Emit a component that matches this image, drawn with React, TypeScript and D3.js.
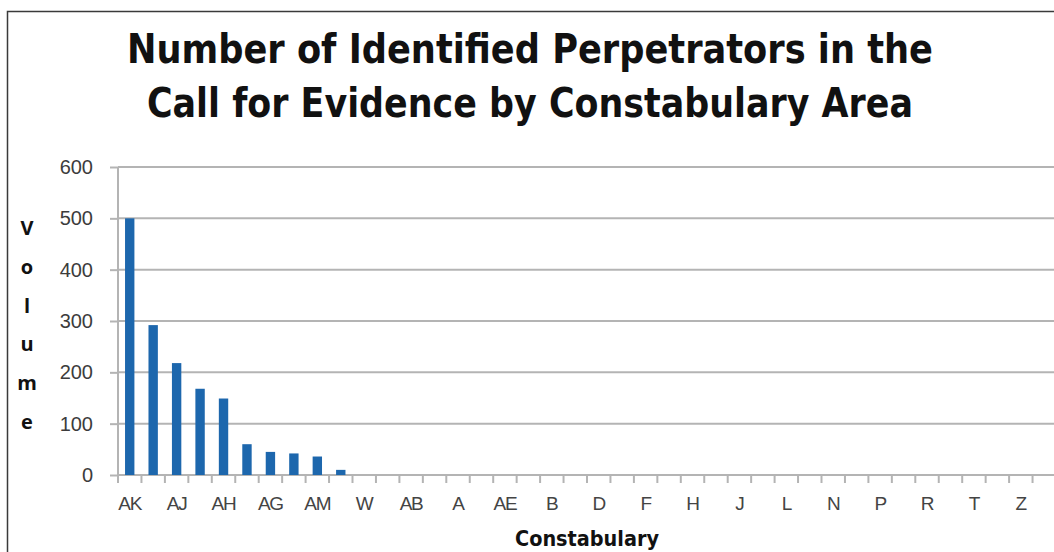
import React from 'react';
import * as d3 from 'd3';

const constabularies = [
  'AK', 'AL', 'AJ', 'AI', 'AH', 'AF', 'AG', 'AD', 'AM', 'X',
  'W', 'Y', 'AB', 'AA', 'A', 'AC', 'AE', 'AN', 'B', 'C',
  'D', 'E', 'F', 'G', 'H', 'I', 'J', 'K', 'L', 'M',
  'N', 'O', 'P', 'Q', 'R', 'S', 'T', 'U', 'Z', 'V',
];
const volumes = [
  500, 292, 218, 168, 149, 60, 45, 42, 36, 10,
  0, 0, 0, 0, 0, 0, 0, 0, 0, 0,
  0, 0, 0, 0, 0, 0, 0, 0, 0, 0,
  0, 0, 0, 0, 0, 0, 0, 0, 0, 0,
];
const yTicks = [0, 100, 200, 300, 400, 500, 600];
const titleLines = ['Number of Identified Perpetrators in the', 'Call for Evidence by Constabulary Area'];
const yTitle = 'Volume';

const useD3 = (renderChartFn: Function, deps: Array<unknown>) => {
  const ref = React.useRef(null);
  React.useEffect(() => {
    renderChartFn(d3.select(ref.current));
  }, deps); // eslint-disable-line
  return ref;
};

export default function App() {
  const width = 1054;
  const height = 552;

  const ref = useD3(
    // @ts-ignore
    (svg) => {
      svg.selectAll('*').remove();
      const left = 118;
      const right = 1056;
      const top = 167;
      const bottom = 475;
      const grey = '#b4b4b4';

      const x = d3.scaleBand().domain(constabularies).range([left, right]).paddingInner(0.6).paddingOuter(0.3);
      const y = d3.scaleLinear().domain([0, 600]).range([bottom, top]);

      svg.append('rect').attr('width', width).attr('height', height).attr('fill', '#fff');
      // frame (cropped on right / bottom)
      svg
        .append('path')
        .attr('d', `M7.5,${height} V11.5 H${width}`)
        .attr('fill', 'none')
        .attr('stroke', '#3a3a3a')
        .attr('stroke-width', 1.5);

      // titles
      const titleWidths = [806, 766];
      svg
        .selectAll('.title')
        .data(titleLines)
        .join('text')
        .attr('class', 'title')
        .attr('x', 530)
        .attr('y', (_d: string, i: number) => 63 + i * 54)
        .attr('text-anchor', 'middle')
        .attr('font-family', '"DejaVu Sans Condensed", "DejaVu Sans", sans-serif')
        .attr('font-weight', 'bold')
        .attr('font-size', 40)
        .attr('fill', '#111')
        .attr('textLength', (_d: string, i: number) => titleWidths[i])
        .attr('lengthAdjust', 'spacingAndGlyphs')
        .text((d: string) => d);

      // gridlines
      svg
        .append('g')
        .selectAll('line')
        .data(yTicks.slice(1))
        .join('line')
        .attr('x1', left)
        .attr('x2', width)
        .attr('y1', (d: number) => y(d))
        .attr('y2', (d: number) => y(d))
        .attr('stroke', grey)
        .attr('stroke-width', 2);

      // y axis
      const yAxis = svg.append('g').attr('transform', `translate(${left},0)`);
      yAxis.call(d3.axisLeft(y).tickValues(yTicks).tickSize(8).tickPadding(17));
      yAxis.select('.domain').attr('stroke', grey).attr('stroke-width', 2).attr('d', `M0,${top}V${bottom + 8}`);
      yAxis.selectAll('.tick line').attr('stroke', grey).attr('stroke-width', 2);
      yAxis
        .selectAll('.tick text')
        .attr('font-family', '"Liberation Sans", Arial, sans-serif')
        .attr('font-size', 20)
        .attr('fill', '#3c3c3c');

      // x axis
      const xAxis = svg.append('g').attr('transform', `translate(0,${bottom})`);
      const step = (right - left) / constabularies.length;
      xAxis
        .append('line')
        .attr('x1', left)
        .attr('x2', width)
        .attr('stroke', grey)
        .attr('stroke-width', 2);
      xAxis
        .selectAll('.xtick')
        .data(d3.range(constabularies.length + 1))
        .join('line')
        .attr('class', 'xtick')
        .attr('x1', (i: number) => left + i * step)
        .attr('x2', (i: number) => left + i * step)
        .attr('y1', 0)
        .attr('y2', 8)
        .attr('stroke', grey)
        .attr('stroke-width', 2);
      xAxis
        .selectAll('.xlabel')
        .data(constabularies.filter((_d, i) => i % 2 === 0))
        .join('text')
        .attr('class', 'xlabel')
        .attr('x', (d: string) => x(d)! + x.bandwidth() / 2)
        .attr('y', 35)
        .attr('text-anchor', 'middle')
        .attr('font-family', '"Liberation Sans", Arial, sans-serif')
        .attr('font-size', 19)
        .attr('letter-spacing', -1.2)
        .attr('fill', '#444')
        .text((d: string) => d);

      // bars
      svg
        .append('g')
        .attr('fill', '#1d67ad')
        .selectAll('rect')
        .data(constabularies.map((c, i) => ({ c, v: volumes[i] })))
        .join('rect')
        .attr('x', (d: { c: string }) => x(d.c))
        .attr('width', x.bandwidth())
        .attr('y', (d: { v: number }) => y(d.v))
        .attr('height', (d: { v: number }) => y(0) - y(d.v));

      // axis titles
      svg
        .append('g')
        .selectAll('text')
        .data(yTitle.split(''))
        .join('text')
        .attr('x', 27)
        .attr('y', (_d: string, i: number) => 235 + i * 38.8)
        .attr('text-anchor', 'middle')
        .attr('font-family', '"Open Sans", sans-serif')
        .attr('font-weight', 'bold')
        .attr('font-size', 20)
        .attr('fill', '#111')
        .text((d: string) => d);

      svg
        .append('text')
        .attr('x', 587)
        .attr('y', 546)
        .attr('text-anchor', 'middle')
        .attr('font-family', '"DejaVu Sans Condensed", "DejaVu Sans", sans-serif')
        .attr('font-weight', 'bold')
        .attr('font-size', 21)
        .attr('fill', '#111')
        .attr('textLength', 144)
        .attr('lengthAdjust', 'spacingAndGlyphs')
        .text('Constabulary');
    },
    []
  );

  return (
    <svg
      ref={ref}
      width={width}
      height={height}
      style={{ position: 'absolute', left: 0, top: 0, display: 'block' }}
    />
  );
}
